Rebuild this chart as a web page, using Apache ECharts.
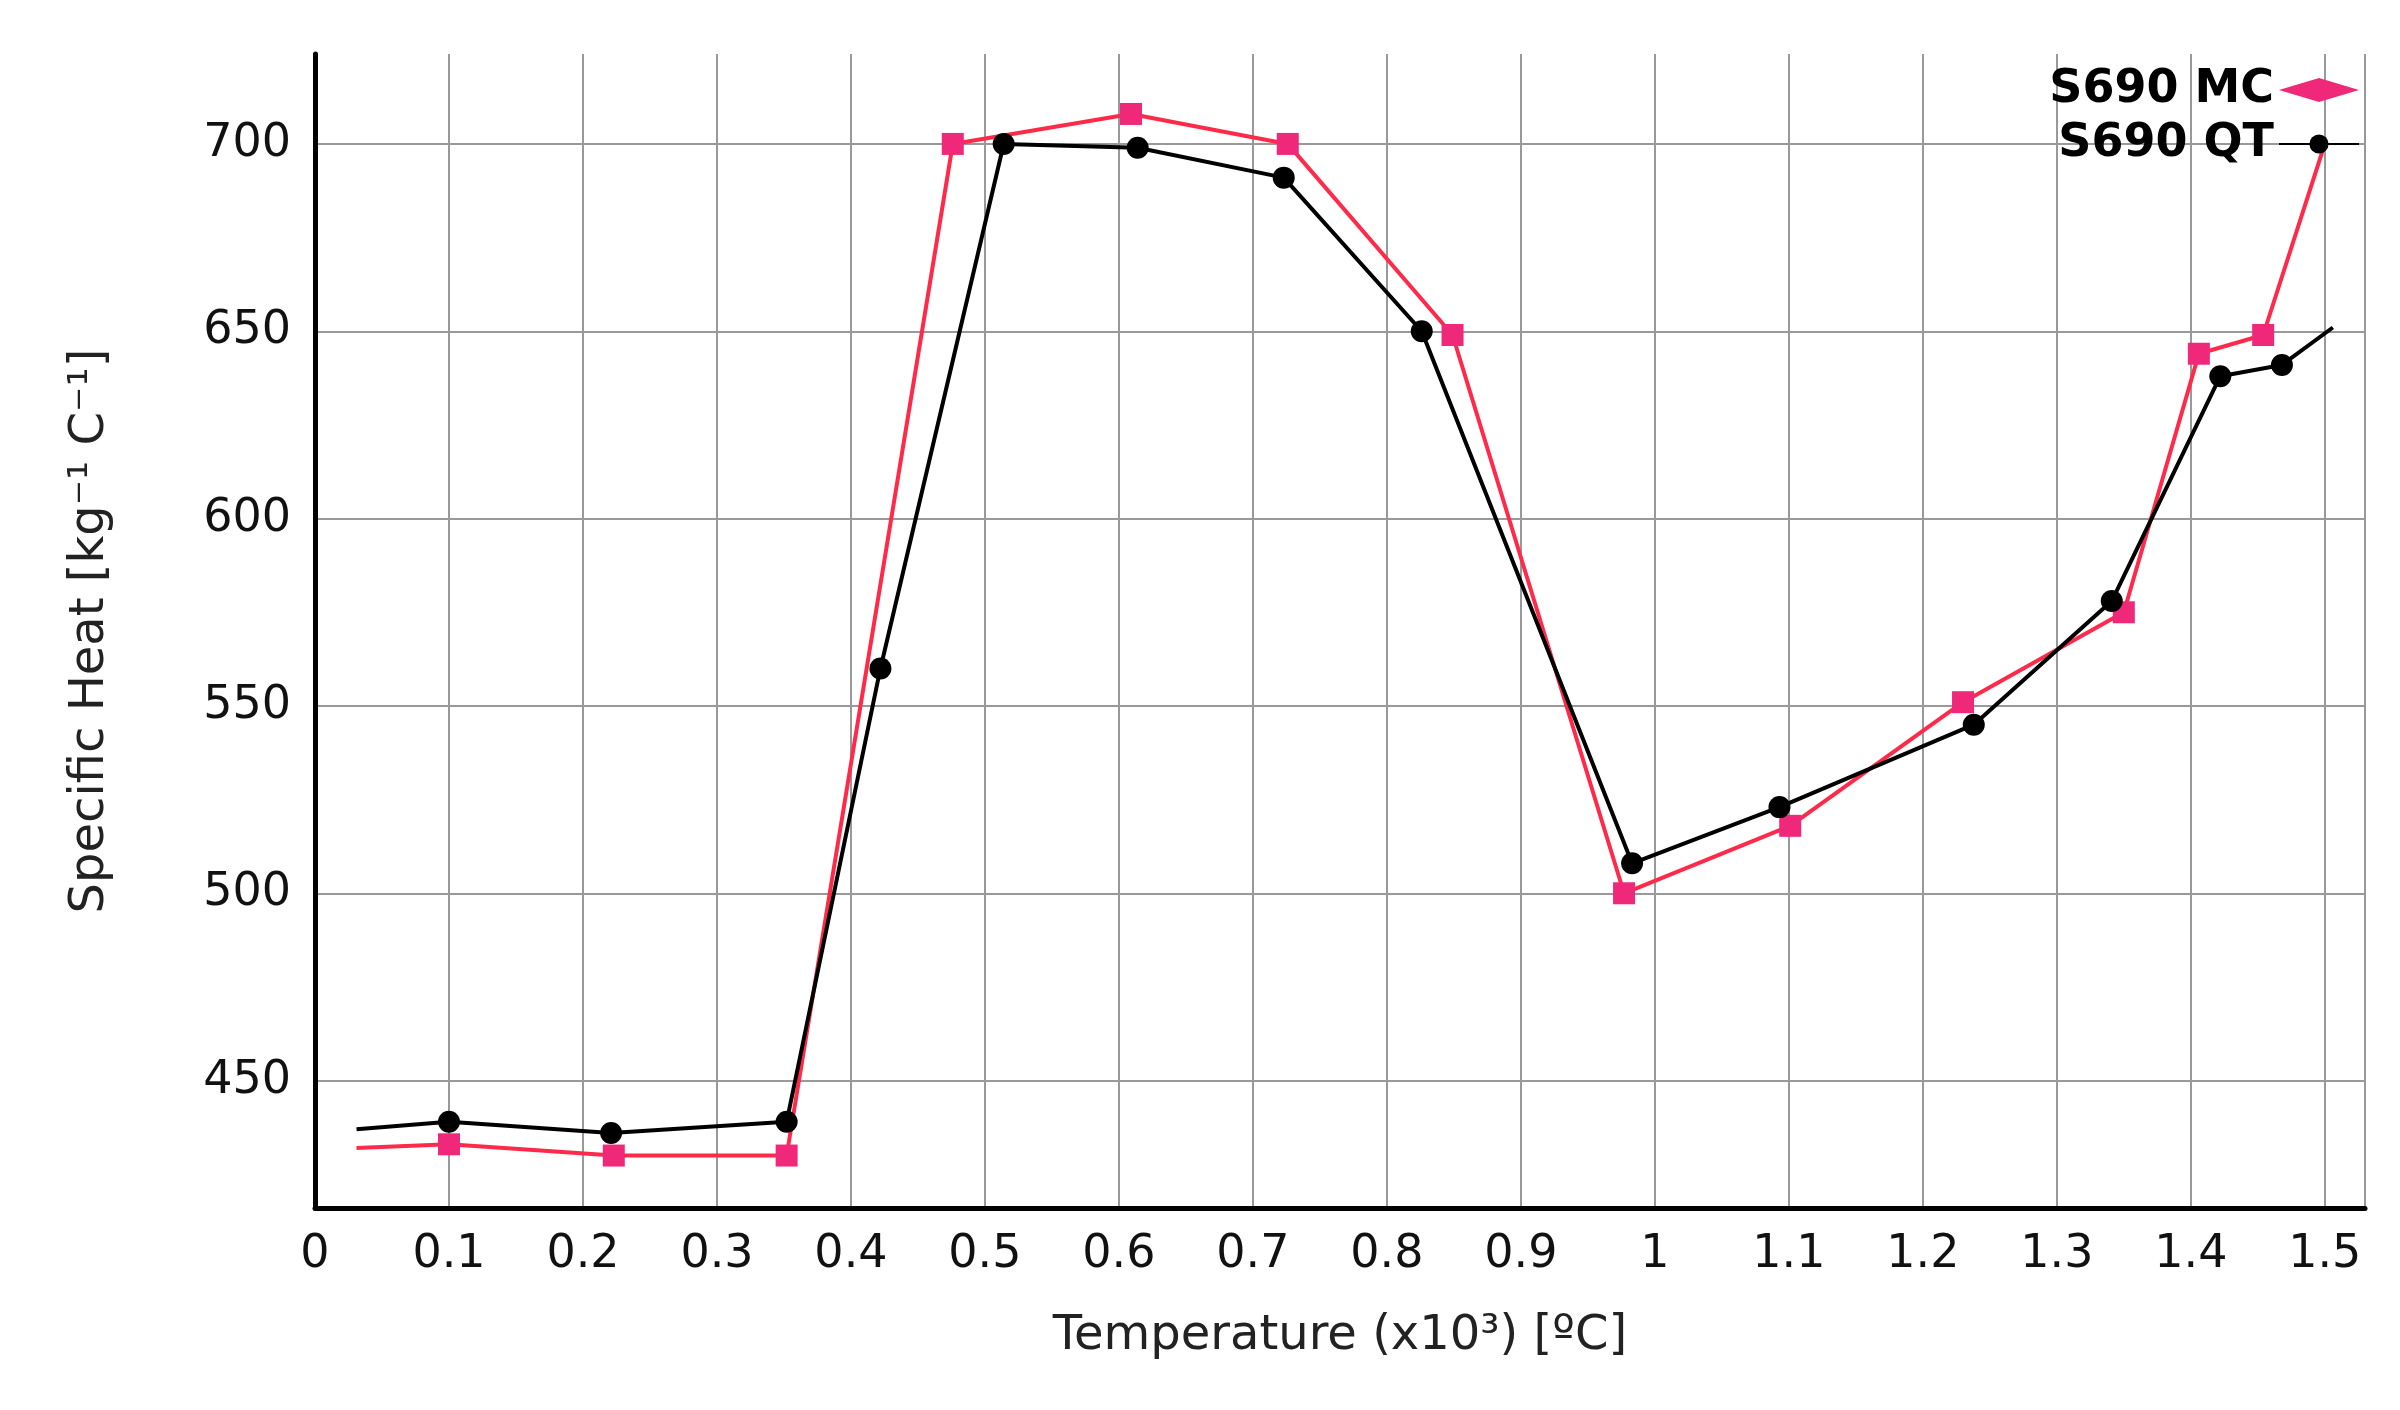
<!DOCTYPE html><html><head><meta charset="utf-8"><script src="https://cdn.jsdelivr.net/npm/echarts@6/dist/echarts.min.js"></script>
<style>html,body{margin:0;background:#fff}#c{width:2400px;height:1410px}</style></head><body><div id="c"></div>
<script>
const mcX=[0.031,0.1,0.223,0.352,0.476,0.609,0.726,0.849,0.977,1.101,1.23,1.35,1.406,1.454,1.5];
const mcY=[432,433,430,430,700,708,700,649,500,518,551,575,644,649,700];
const qtX=[0.031,0.1,0.221,0.352,0.422,0.514,0.614,0.723,0.826,0.983,1.093,1.238,1.341,1.422,1.468,1.506];
const qtY=[437,439,436,439,560,700,699,691,650,508,523,545,578,638,641,651];
const xTicks=[0,0.1,0.2,0.3,0.4,0.5,0.6,0.7,0.8,0.9,1,1.1,1.2,1.3,1.4,1.5];
const yTicks=[450,500,550,600,650,700];
const mk=(xs,ys,noMarkIdx)=>xs.map((x,i)=>({value:[x,ys[i]],symbolSize:noMarkIdx.includes(i)?0:undefined}));
const ch=echarts.init(document.getElementById('c'));
const F='DejaVu Sans';
ch.setOption({
animation:false,
grid:{left:315,right:35,top:54,bottom:202},
legend:{right:35,top:62,orient:'vertical',align:'right',itemGap:8,itemWidth:80,itemHeight:24,
 textStyle:{fontFamily:F,fontSize:46,fontWeight:'bold',color:'#000'},
 data:[{name:'S690 MC',icon:'diamond',itemStyle:{color:'#f0287a'}},{name:'S690 QT',itemStyle:{color:'#000'}}]},
xAxis:{type:'value',min:0,max:1.53,interval:0.1,
 name:'Temperature (x10³) [ºC]',nameLocation:'middle',nameGap:105,nameTextStyle:{fontFamily:F,fontSize:48,color:'#222'},
 axisLine:{lineStyle:{color:'#000',width:5}},axisTick:{show:false},
 axisLabel:{fontFamily:F,fontSize:46,color:'#111',margin:24,formatter:v=>v>1.51?'':String(+v.toFixed(1))},
 splitLine:{show:true,lineStyle:{color:'#999',width:2}}},
yAxis:{type:'value',min:416,max:724,
 axisLabel:{customValues:yTicks,fontFamily:F,fontSize:46,color:'#111',margin:24},
 axisTick:{show:false,customValues:yTicks},
 name:'Specific Heat [kg⁻¹ C⁻¹]',nameLocation:'middle',nameGap:200,nameTextStyle:{fontFamily:F,fontSize:48,color:'#222'},
 axisLine:{show:true,lineStyle:{color:'#000',width:5}},
 splitLine:{show:true,lineStyle:{color:'#999',width:2}}},
series:[
{name:'S690 MC',type:'line',data:mk(mcX,mcY,[0,14]),symbol:'rect',symbolSize:22,
 lineStyle:{color:'#ff2a4a',width:4},itemStyle:{color:'#f0287a'}},
{name:'S690 QT',type:'line',data:mk(qtX,qtY,[0,15]),symbol:'circle',symbolSize:22,
 lineStyle:{color:'#000',width:4},itemStyle:{color:'#000'}}
]});
</script></body></html>
